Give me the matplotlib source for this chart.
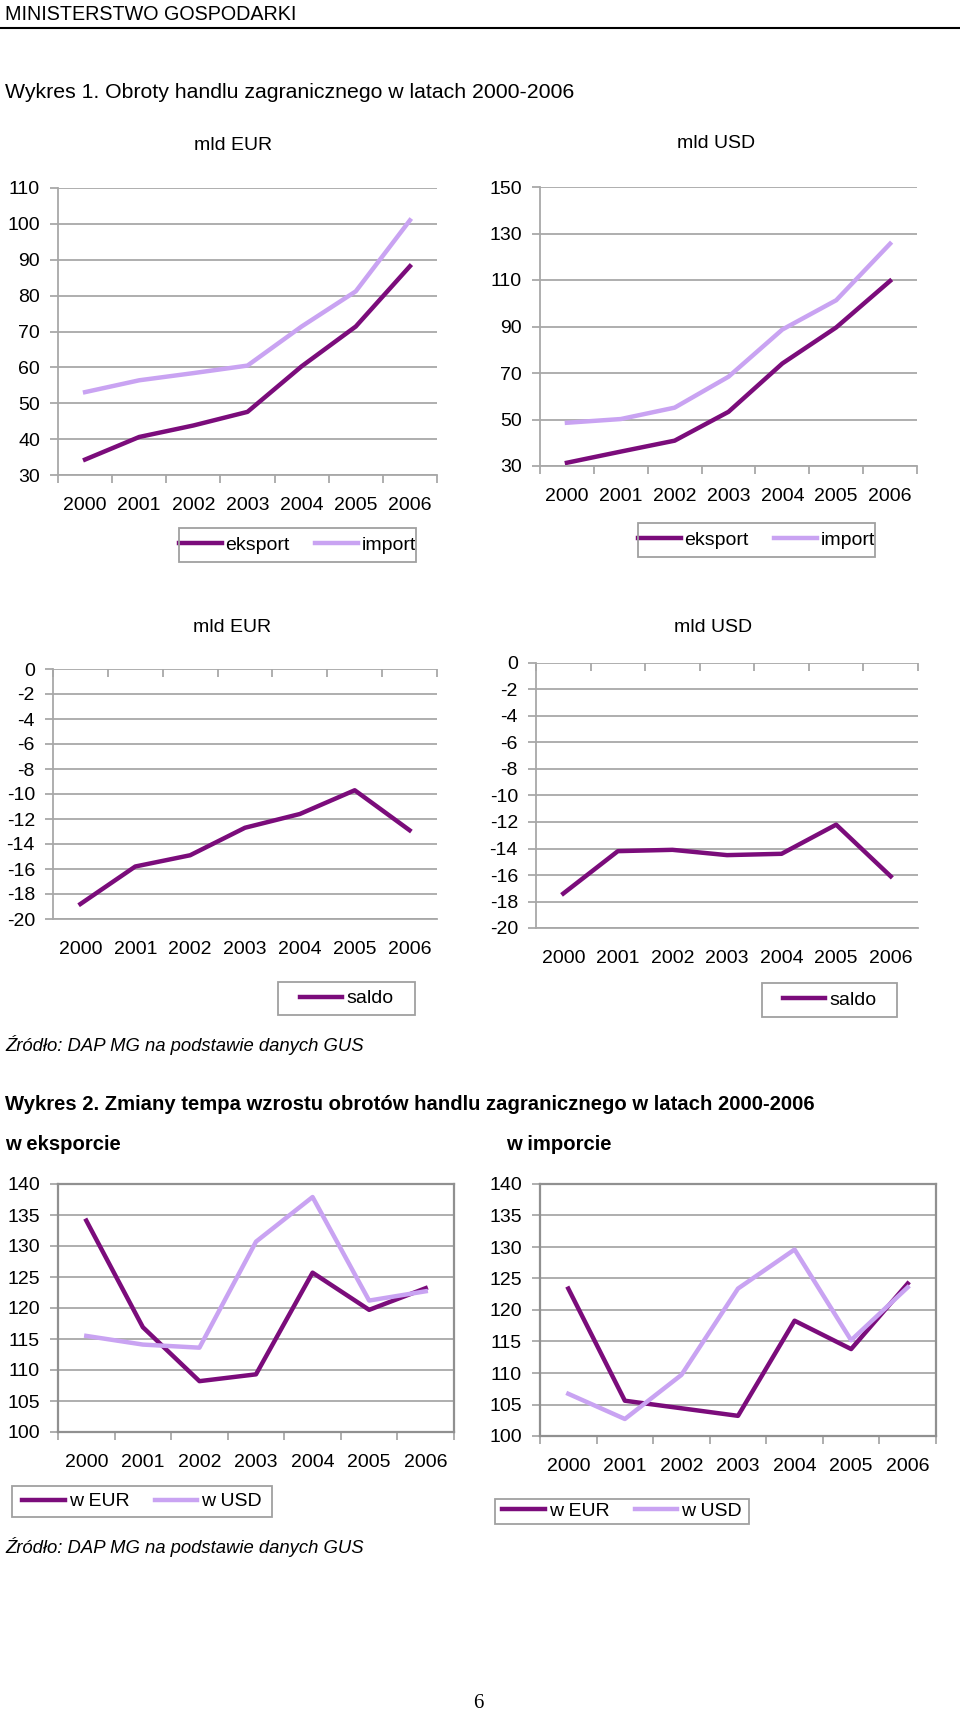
import numpy as np
import matplotlib
matplotlib.use("Agg")
from matplotlib import pyplot as plt
from matplotlib.lines import Line2D
from matplotlib.patches import Rectangle

years = ["2000", "2001", "2002", "2003", "2004", "2005", "2006"]

# Wykres 1 - obroty (mld EUR / mld USD)
eksport_eur = [34.3, 40.6, 43.8, 47.6, 60.3, 71.4, 88.2]
import_eur = [53.1, 56.4, 58.4, 60.5, 71.4, 81.2, 101.0]
eksport_usd = [31.4, 36.2, 40.9, 53.3, 74.1, 89.6, 109.6]
import_usd = [48.6, 50.2, 55.1, 68.4, 88.7, 101.3, 125.6]

# saldo
saldo_eur = [-18.8, -15.8, -14.9, -12.7, -11.6, -9.7, -12.9]
saldo_usd = [-17.4, -14.2, -14.1, -14.5, -14.4, -12.2, -16.1]

# Wykres 2 - tempo wzrostu
eksp_w_eur = [134.1, 116.9, 108.2, 109.3, 125.7, 119.7, 123.2]
eksp_w_usd = [115.5, 114.1, 113.6, 130.7, 137.9, 121.2, 122.7]
imp_w_eur = [123.4, 105.6, 104.4, 103.2, 118.3, 113.8, 124.2]
imp_w_usd = [106.7, 102.7, 109.7, 123.4, 129.6, 115.2, 123.6]

DARK = "#7b0c7b"
LIGHT = "#c9a3f2"
GRID = "#a8a8a8"

W, H = 960, 1714
plt.rcParams["font.family"] = ["Liberation Sans", "DejaVu Sans"]
plt.rcParams["axes.unicode_minus"] = False
plt.rcParams["font.size"] = 14

fig = plt.figure(figsize=(W / 100, H / 100), dpi=100)


def px(x, y):
    return x / W, 1 - y / H


def make_ax(l, t, r, b):
    return fig.add_axes([l / W, 1 - b / H, (r - l) / W, (b - t) / H])


def style(ax, lo, hi, step, box=False, top_ticks=False):
    ax.set_xlim(-0.5, 6.5)
    ax.set_ylim(lo, hi)
    ax.set_yticks(np.arange(lo, hi + step / 2, step))
    ax.yaxis.grid(True, color=GRID, lw=1.3)
    ax.set_axisbelow(True)
    ax.set_xticks(range(7))
    ax.set_xticklabels(years)
    ax.set_xticks(np.arange(-0.5, 7, 1), minor=True)
    ax.tick_params(axis="x", which="major", length=0, pad=16, labelsize=14)
    if top_ticks:
        ax.tick_params(axis="x", which="minor", bottom=False, top=True,
                       direction="in", length=6, width=1.3, color=GRID)
    else:
        ax.tick_params(axis="x", which="minor", length=6, width=1.3, color=GRID)
    ax.tick_params(axis="y", length=6, width=1.3, color=GRID, pad=7, labelsize=14)
    for s in ["left", "bottom"]:
        ax.spines[s].set_color(GRID)
        ax.spines[s].set_linewidth(1.3)
    if box:
        for s in ["top", "right", "left", "bottom"]:
            ax.spines[s].set_color("#909090")
            ax.spines[s].set_linewidth(1.6)
    else:
        ax.spines["top"].set_visible(False)
        ax.spines["right"].set_visible(False)


def legend(ax, l, t, r, b, ncol=2):
    fig.add_artist(Rectangle((l / W, 1 - b / H), (r - l) / W, (b - t) / H,
                             transform=fig.transFigure, fill=False,
                             edgecolor="#a0a0a0", lw=1.3))
    ax.legend(loc="center", bbox_to_anchor=px((l + r) / 2, (t + b) / 2),
              bbox_transform=fig.transFigure, ncol=ncol, frameon=False,
              handlelength=2.2, handletextpad=0.2, columnspacing=1.3,
              borderpad=0.2, fontsize=14)


x = np.arange(7)
LW = 3.2

# header
fig.text(*px(5, 14), "MINISTERSTWO GOSPODARKI", fontsize=14.2, va="center", ha="left")
fig.add_artist(Line2D([0, 1], [1 - 28 / H, 1 - 28 / H], color="black", lw=1.5))
fig.text(*px(5, 93), "Wykres 1. Obroty handlu zagranicznego w latach 2000-2006",
         fontsize=15.3, va="center", ha="left")

# top left
ax = make_ax(58, 188, 437, 475)
ax.plot(x, eksport_eur, color=DARK, lw=LW, label="eksport")
ax.plot(x, import_eur, color=LIGHT, lw=LW, label="import")
style(ax, 30, 110, 10)
legend(ax, 179, 528, 416, 562)
fig.text(*px(233, 145), "mld EUR", fontsize=14, ha="center", va="center")

# top right
ax = make_ax(540, 187, 917, 466)
ax.plot(x, eksport_usd, color=DARK, lw=LW, label="eksport")
ax.plot(x, import_usd, color=LIGHT, lw=LW, label="import")
style(ax, 30, 150, 20)
legend(ax, 638, 523, 875, 557)
fig.text(*px(716, 144), "mld USD", fontsize=14, ha="center", va="center")

# saldo EUR
ax = make_ax(53, 669, 437, 919)
ax.plot(x, saldo_eur, color=DARK, lw=LW, label="saldo")
style(ax, -20, 0, 2, top_ticks=True)
legend(ax, 278, 982, 415, 1015, ncol=1)
fig.text(*px(232, 628), "mld EUR", fontsize=14, ha="center", va="center")

# saldo USD
ax = make_ax(536, 663, 918, 928)
ax.plot(x, saldo_usd, color=DARK, lw=LW, label="saldo")
style(ax, -20, 0, 2, top_ticks=True)
legend(ax, 762, 983, 897, 1017, ncol=1)
fig.text(*px(713, 627), "mld USD", fontsize=14, ha="center", va="center")

src = "Źródło: DAP MG na podstawie danych GUS"
fig.text(*px(5, 1045), src, fontsize=13.3, style="italic", ha="left", va="center")

# Wykres 2
fig.text(*px(5, 1105), "Wykres 2. Zmiany tempa wzrostu obrotów handlu zagranicznego w latach 2000-2006",
         fontsize=14.6, weight="bold", ha="left", va="center")
fig.text(*px(5, 1144), "w eksporcie", fontsize=14.6, weight="bold", ha="left", va="center")
fig.text(*px(506, 1145), "w imporcie", fontsize=14.6, weight="bold", ha="left", va="center")

ax = make_ax(58, 1184, 454, 1432)
ax.plot(x, eksp_w_eur, color=DARK, lw=LW, label="w EUR")
ax.plot(x, eksp_w_usd, color=LIGHT, lw=LW, label="w USD")
style(ax, 100, 140, 5, box=True)
legend(ax, 12, 1486, 272, 1517)

ax = make_ax(540, 1184, 936, 1436)
ax.plot(x, imp_w_eur, color=DARK, lw=LW, label="w EUR")
ax.plot(x, imp_w_usd, color=LIGHT, lw=LW, label="w USD")
style(ax, 100, 140, 5, box=True)
legend(ax, 495, 1499, 749, 1524)

fig.text(*px(5, 1547), src, fontsize=13.3, style="italic", ha="left", va="center")

fig.text(*px(478, 1704), "6", fontsize=15, family="Liberation Serif", ha="center", va="center")

fig.savefig("out.png", dpi=100)
